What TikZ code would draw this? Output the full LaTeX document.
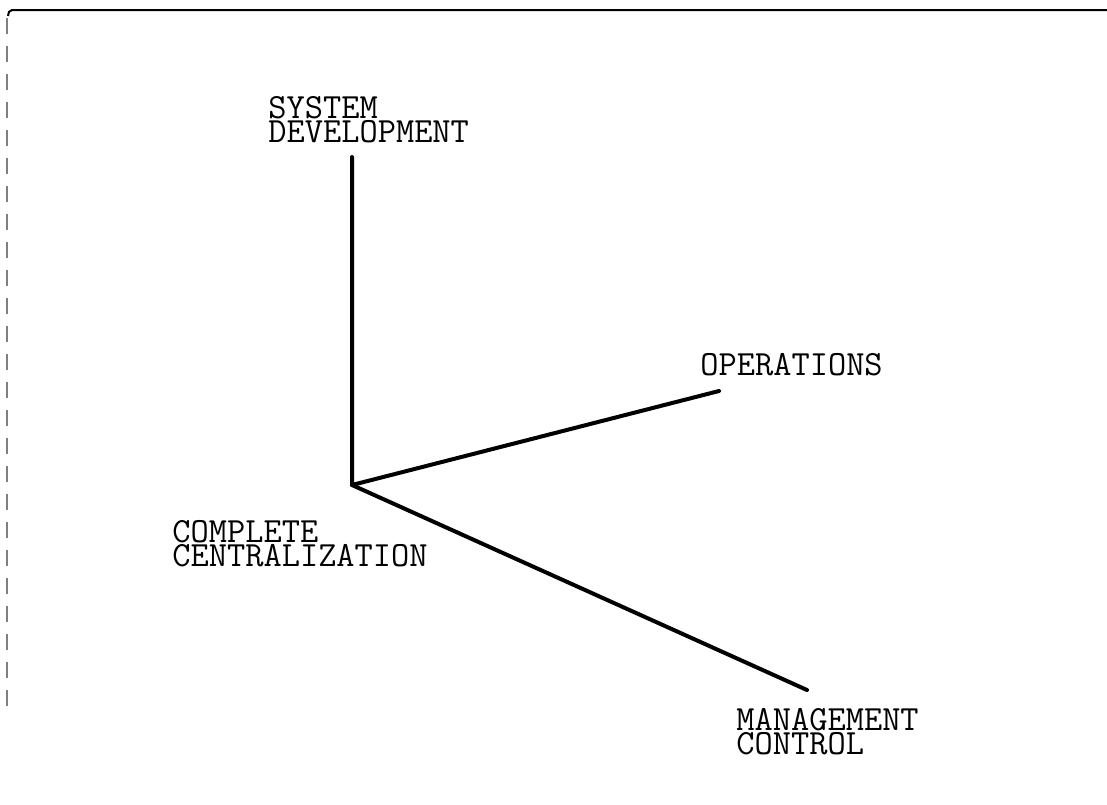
\documentclass[tikz,border=0pt]{standalone}
\usepackage{fontspec}
\usepackage{tikz}
\tikzset{%
  axis/.style={line width=2pt, line cap=round, line join=round},
  lbl/.style={font=\ttfamily\fontsize{17.7}{12}\selectfont, inner sep=0pt, align=left, anchor=north west}
}
\begin{document}
\begin{tikzpicture}[x=0.5pt,y=-0.5pt]
\useasboundingbox (0,0) rectangle (1107,804);
% frame
\draw[line width=1pt] (8,16) to[out=90,in=180] (12,10) -- (1107,10);
\draw[gray, line width=0.6pt, dash pattern=on 8pt off 6pt] (7,18) -- (7,712);
% axes
\coordinate (orig) at (352,485);
\coordinate (top) at (352,157);
\coordinate (opsend) at (719,391);
\coordinate (mgtend) at (807,690);
\draw[axis] (top) -- (orig) -- (opsend);
\draw[axis] (orig) -- (mgtend);
% labels
\node[lbl] (sysdev) at (268,96) {SYSTEM\\DEVELOPMENT};
\node[lbl] (ops) at (700,353) {OPERATIONS};
\node[lbl] (mgt) at (736,708) {MANAGEMENT\\CONTROL};
\node[lbl] (cent) at (172,520) {COMPLETE\\CENTRALIZATION};
\end{tikzpicture}
\end{document}
